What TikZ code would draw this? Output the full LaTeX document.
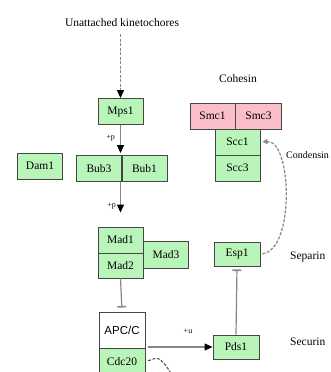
\documentclass[tikz,border=0pt]{standalone}
\usepackage{fontspec}
\setmainfont{Liberation Serif}
\setsansfont{Liberation Sans}
\usetikzlibrary{arrows.meta}

\definecolor{geneGreen}{RGB}{185,245,185}
\definecolor{cplxPink}{RGB}{250,190,200}
\definecolor{boxLine}{RGB}{70,70,70}
\definecolor{linkGray}{RGB}{135,135,135}

\tikzset{
  gene/.style={draw=boxLine,fill=geneGreen,line width=0.9pt,minimum width=45pt,
    minimum height=26pt,inner sep=0pt,font=\fontsize{11.5}{13}\selectfont},
  cplx/.style={gene,fill=cplxPink},
  plainbox/.style={gene,fill=white,font=\sffamily\fontsize{11.5}{13}\selectfont},
  lbl/.style={font=\fontsize{11.5}{13}\selectfont,inner sep=0pt},
  tiny/.style={font=\fontsize{8}{9}\selectfont,inner sep=0pt},
  act/.style={draw=linkGray,line width=1.2pt,
    -{Triangle[length=8pt,width=7pt,color=black]}},
  inhib/.style={draw=linkGray,line width=1.2pt,-{Bar[width=9pt,line width=1.6pt]}},
  dashact/.style={act,dashed,dash pattern=on 3pt off 1.5pt}
}

\begin{document}
\begin{tikzpicture}[x=1pt,y=-1pt]
    \useasboundingbox (0,0) rectangle (330,372);
    \clip (0,0) rectangle (330,372);

    % The checkpoint signal
    \node[lbl] (kin) at (122,23) {Unattached kinetochores};
    \node[gene] (mps) at (120.5,111.5) {Mps1};
    \node[gene] (dam) at (40,166) {Dam1};
    \node[gene] (bub3) at (99,168.5) {Bub3};
    \node[gene] (bub1) at (144.5,168.5) {Bub1};

    % The Mad proteins and the APC/C
    \node[gene] (mad1) at (120.5,240) {Mad1};
    \node[gene,minimum height=25pt] (mad2) at (120.5,265.5) {Mad2};
    \node[gene,minimum height=27pt] (mad3) at (166,254.5) {Mad3};
    \node[plainbox,minimum width=46pt,minimum height=36pt] (apc) at (122,330) {APC/C};
    \node[gene,minimum width=46pt,minimum height=28pt] (cdc) at (122,362) {Cdc20};

    % Cohesin and its cleavage
    \node[lbl] (coh) at (238,79) {Cohesin};
    \node[cplx] (smc1) at (212.5,116) {Smc1};
    \node[cplx,minimum width=46pt] (smc3) at (258.5,116) {Smc3};
    \node[gene] (scc1) at (237.5,142) {Scc1};
    \node[gene] (scc3) at (237.5,168) {Scc3};
    \node[gene,minimum width=46pt,minimum height=24pt] (esp) at (237,254) {Esp1};
    \node[gene,minimum width=46pt,minimum height=24pt] (pds) at (236,347) {Pds1};

    % Names on the right
    \node[lbl,anchor=west,font=\fontsize{10}{12}\selectfont] (cond) at (286,155) {Condensin};
    \node[lbl,anchor=west] (sep) at (290,257) {Separin};
    \node[lbl,anchor=west] (sec) at (290,342) {Securin};
    \coordinate (cdcout) at (178,384);

    % Links
    \draw[dashact,shorten <=7pt] (kin.south -| mps.north) -- (mps.north);
    \draw[act,shorten >=2pt] (mps.south) -- (mps.south |- bub3.north);
    \node[tiny,anchor=east] (p1) at (115,138) {+p};
    \draw[act,shorten >=14pt] (mad1.north |- bub3.south) -- (mad1.north);
    \node[tiny,anchor=east] (p2) at (116,206) {+p};
    \draw[inhib,shorten >=4pt] (mad2.south) -- (apc.north);
    \draw[act,shorten <=3pt] (pds.west -| apc.east) -- (pds.west);
    \node[tiny] (u1) at (188,331) {+u};
    \draw[inhib,shorten >=3pt] (pds.north) -- (esp.south);
    \draw[dashact,-{Triangle[length=5pt,width=5pt,color=linkGray]},shorten <=2pt,shorten >=2pt]
        (esp.east) .. controls (295,250) and (292,140) .. (scc1.east);
    \draw[draw=boxLine,line width=1pt,dashed,dash pattern=on 3pt off 1.5pt,shorten <=3pt]
        (cdc.east) .. controls (160,356) .. (cdcout);
\end{tikzpicture}
\end{document}
